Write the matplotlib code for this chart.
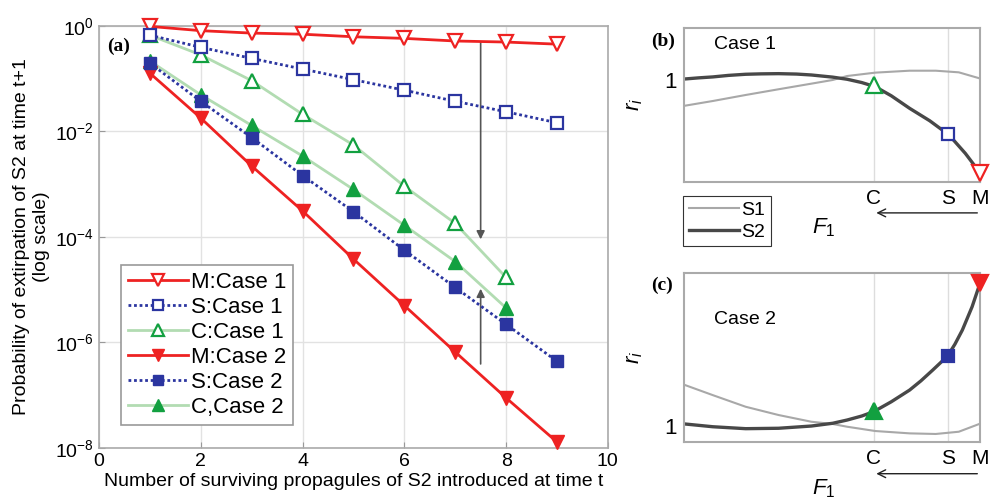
import numpy as np
import matplotlib
matplotlib.use("Agg")
import matplotlib.pyplot as plt
from matplotlib.ticker import FixedLocator, LogFormatterMathtext
from matplotlib.lines import Line2D

plt.rcParams['font.family'] = ['Liberation Sans', 'DejaVu Sans']
plt.rcParams['mathtext.fontset'] = 'custom'
plt.rcParams['mathtext.rm'] = 'Liberation Sans'
plt.rcParams['mathtext.it'] = 'Liberation Sans:italic'

# ---- panel (a) data: probability of extirpation ----
n_props = [1, 2, 3, 4, 5, 6, 7, 8, 9]
m_case1 = [0.97, 0.805, 0.724, 0.69, 0.617, 0.575, 0.513, 0.49, 0.447]
s_case1 = [0.66, 0.39, 0.24, 0.151, 0.095, 0.060, 0.037, 0.0234, 0.0145]
c_case1 = [0.66, 0.28, 0.091, 0.021, 0.0055, 9.1e-4, 1.8e-4, 1.7e-5]
m_case2 = [0.126, 0.0178, 2.2e-3, 3.1e-4, 3.8e-5, 5.0e-6, 6.6e-7, 8.9e-8, 1.3e-8]
s_case2 = [0.195, 0.037, 7.6e-3, 1.45e-3, 3.0e-4, 5.6e-5, 1.1e-5, 2.2e-6, 4.4e-7]
c_case2 = [0.214, 0.049, 0.0129, 3.4e-3, 7.9e-4, 1.66e-4, 3.4e-5, 4.5e-6]

# ---- panels (b), (c): growth rate curves along F1 ----
f1_pts = [0.003, 0.097, 0.208, 0.319, 0.430, 0.502, 0.551, 0.646, 0.762, 0.850, 0.928, 0.997]
b_s1 = [0.748, 0.794, 0.853, 0.909, 0.964, 1.0, 1.039, 1.072, 1.091, 1.091, 1.075, 1.017]
b_s2_x = [0.003, 0.05, 0.097, 0.15, 0.208, 0.26, 0.319, 0.38, 0.430, 0.502, 0.551,
          0.60, 0.646, 0.70, 0.762, 0.83, 0.895, 0.950, 0.997]
b_s2 = [1.01, 1.021, 1.03, 1.045, 1.056, 1.06, 1.062, 1.058, 1.049, 1.028, 1.007,
        0.975, 0.934, 0.845, 0.722, 0.60, 0.461, 0.281, 0.101]
c_s1 = [1.399, 1.30, 1.186, 1.105, 1.039, 1.017, 0.99, 0.948, 0.925, 0.919, 0.941, 1.017]
c_s2_x = [0.003, 0.097, 0.208, 0.319, 0.430, 0.502, 0.551, 0.60, 0.640, 0.70, 0.762,
          0.80, 0.840, 0.890, 0.915, 0.940, 0.973, 1.0]
c_s2 = [1.017, 0.990, 0.971, 0.975, 0.997, 1.024, 1.056, 1.095, 1.137, 1.235, 1.35,
        1.44, 1.546, 1.683, 1.80, 1.938, 2.167, 2.40]
strat_x = [0.640, 0.891, 1.0]   # C, S, M
strat_lbl = ['C', 'S', 'M']
b_strat = [0.95, 0.47, 0.085]
c_strat = [1.14, 1.68, 2.40]

red = '#ee2222'
blue = '#2b35a0'
green = '#12a040'
lgreen = '#b2dcb2'
gcol = '#a8a8a8'
dcol = '#484848'

fig = plt.figure(figsize=(9.9, 4.98), dpi=100)

# ================= panel (a) =================
ax = fig.add_axes([0.1, 0.1004, 0.514, 0.848])
ax.plot(n_props, m_case1, color=red, lw=2, marker='v', ms=10, mfc='white',
        mec=red, mew=1.6, label='M:Case 1', clip_on=False, zorder=5)
ax.plot(n_props, s_case1, color=blue, lw=2, ls=(0, (1, 1)), marker='s', ms=8,
        mfc='white', mec=blue, mew=1.6, label='S:Case 1', clip_on=False, zorder=5)
ax.plot(n_props[:8], c_case1, color=lgreen, lw=2, marker='^', ms=10, mfc='white',
        mec=green, mew=1.6, label='C:Case 1', clip_on=False, zorder=4)
ax.plot(n_props, m_case2, color=red, lw=2, marker='v', ms=10, mfc=red,
        mec=red, label='M:Case 2', clip_on=False, zorder=5)
ax.plot(n_props, s_case2, color=blue, lw=2, ls=(0, (1, 1)), marker='s', ms=8,
        mfc=blue, mec=blue, label='S:Case 2', clip_on=False, zorder=5)
ax.plot(n_props[:8], c_case2, color=lgreen, lw=2, marker='^', ms=10, mfc=green,
        mec=green, label='C,Case 2', clip_on=False, zorder=4)

ax.annotate('', xy=(7.5, 10**-4.1), xytext=(7.5, 10**-0.25),
            arrowprops=dict(arrowstyle='-|>', color='#555555', lw=1.2, mutation_scale=12))
ax.annotate('', xy=(7.5, 10**-4.93), xytext=(7.5, 10**-6.46),
            arrowprops=dict(arrowstyle='-|>', color='#555555', lw=1.2, mutation_scale=12))

ax.set_yscale('log')
ax.set_xlim(0, 10)
ax.set_ylim(1e-8, 1)
ax.yaxis.set_major_locator(FixedLocator([1e-8, 1e-6, 1e-4, 1e-2, 1]))
ax.yaxis.set_major_formatter(LogFormatterMathtext())
ax.yaxis.set_minor_locator(FixedLocator([]))
ax.set_xticks([0, 2, 4, 6, 8, 10])
ax.grid(True, color='#e2e2e2', lw=1)
ax.tick_params(direction='in', length=4, labelsize=14, color='#999999')
for s in ax.spines.values():
    s.set_color('#aaaaaa')
    s.set_linewidth(1.2)
ax.set_xlabel('Number of surviving propagules of S2 introduced at time t', fontsize=14, labelpad=2)
ax.set_ylabel('Probability of extirpation of S2 at time t+1\n(log scale)', fontsize=14, labelpad=4)
ax.text(0.015, 0.94, '(a)', transform=ax.transAxes, fontsize=14, fontweight='bold',
        family='Liberation Serif')
leg = ax.legend(loc='lower left', bbox_to_anchor=(0.043, 0.055), fontsize=16, numpoints=1,
                handlelength=2.7, markerscale=0.9, fancybox=False, framealpha=1,
                edgecolor='#999999', borderpad=0.3, labelspacing=0.18, handletextpad=0.15,
                borderaxespad=0)
leg.get_frame().set_linewidth(1.2)


def side_panel(rect, s1x, s1, s2x, s2, strat_y, filled, ylim, case_txt, tag, arrow_y):
    a = fig.add_axes(rect)
    a.plot(s1x, s1, color=gcol, lw=1.5)
    a.plot(s2x, s2, color=dcol, lw=2.4)
    marks = [('^', green, 11), ('s', blue, 9), ('v', red, 11)]
    for (mk, col, ms), xv, yv in zip(marks, strat_x, strat_y):
        a.plot([xv], [yv], marker=mk, ms=ms, mec=col, mew=1.6,
               mfc=col if filled else 'white', clip_on=False, zorder=6)
    a.set_xlim(0, 1)
    a.set_ylim(*ylim)
    a.set_xticks(strat_x)
    a.set_xticklabels(strat_lbl)
    a.set_yticks([1])
    a.grid(True, axis='x', color='#dddddd', lw=1)
    a.tick_params(direction='in', length=0, labelsize=15, pad=5)
    a.tick_params(axis='y', labelsize=16)
    for s in a.spines.values():
        s.set_color('#aaaaaa')
        s.set_linewidth(1.5)
    a.set_ylabel('$r_i$', fontsize=16, labelpad=14)
    a.text(0.1, 0.86 if tag == '(b)' else 0.7, case_txt, transform=a.transAxes, fontsize=14)
    a.text(-0.11, 0.88 if tag == '(b)' else 0.9, tag, transform=a.transAxes, fontsize=14,
           fontweight='bold', family='Liberation Serif')
    a.annotate('', xy=(strat_x[0], arrow_y), xytext=(1.0, arrow_y),
               xycoords=('data', 'axes fraction'), textcoords=('data', 'axes fraction'),
               arrowprops=dict(arrowstyle='->', color='#222222', lw=1, mutation_scale=14))
    a.text(0.47, arrow_y - 0.02, '$F_1$', transform=a.transAxes, fontsize=16,
           ha='center', va='top')
    return a


side_panel([0.691, 0.6345, 0.299, 0.31], f1_pts, b_s1, b_s2_x, b_s2, b_strat, False,
           (0, 1.513), 'Case 1', '(b)', -0.2)
side_panel([0.691, 0.113, 0.299, 0.338], f1_pts, c_s1, c_s2_x, c_s2, c_strat, True,
           (0.843, 2.494), 'Case 2', '(c)', -0.19)

handles = [Line2D([], [], color=gcol, lw=1.5), Line2D([], [], color=dcol, lw=2.4)]
fl = fig.legend(handles, ['S1', 'S2'], loc='upper left', bbox_to_anchor=(0.69, 0.607),
                fontsize=14, fancybox=False, framealpha=1, edgecolor='#333333',
                handlelength=2.6, borderpad=0.3, labelspacing=0.2, handletextpad=0.1,
                borderaxespad=0)
fl.get_frame().set_linewidth(0.8)

fig.savefig('out.png', dpi=100)
